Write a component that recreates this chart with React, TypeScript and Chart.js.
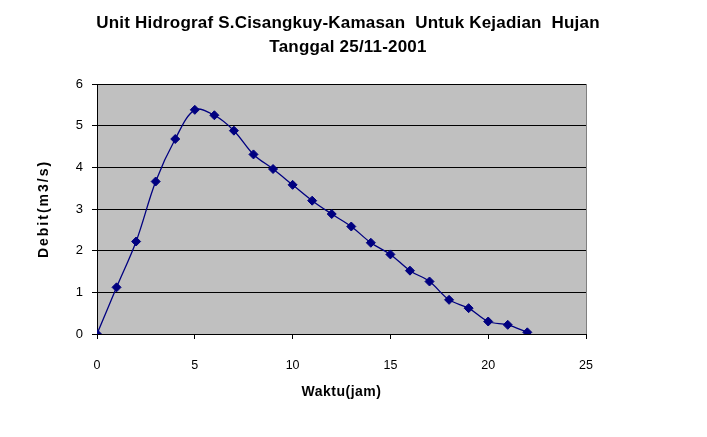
import React, { useEffect, useRef } from "react";
import { Chart, registerables } from "chart.js";

Chart.register(...registerables);

const titleLines = ["Unit Hidrograf S.Cisangkuy-Kamasan  Untuk Kejadian  Hujan", "Tanggal 25/11-2001"];
const xAxisTitle = "Waktu(jam)";
const yAxisTitle = "Debit(m3/s)";
const waktu = [0, 1, 2, 3, 4, 5, 6, 7, 8, 9, 10, 11, 12, 13, 14, 15, 16, 17, 18, 19, 20, 21, 22];
const debit = [0, 1.12, 2.22, 3.66, 4.68, 5.38, 5.25, 4.88, 4.31, 3.96, 3.58, 3.2, 2.88, 2.58, 2.19, 1.91, 1.52, 1.26, 0.82, 0.62, 0.3, 0.22, 0.04];

const sans = "'Liberation Sans', Arial, sans-serif";

const plotBg = {
  id: "plotBg",
  beforeDraw(chart: any) {
    const { ctx, chartArea } = chart;
    ctx.save();
    ctx.fillStyle = "#c0c0c0";
    ctx.fillRect(chartArea.left, chartArea.top, chartArea.right - chartArea.left, chartArea.bottom - chartArea.top);
    ctx.restore();
  },
  beforeDatasetsDraw(chart: any) {
    const { ctx, chartArea } = chart;
    ctx.save();
    ctx.strokeStyle = "#808080";
    ctx.lineWidth = 1;
    ctx.beginPath();
    ctx.moveTo(chartArea.right + 0.5, chartArea.top);
    ctx.lineTo(chartArea.right + 0.5, chartArea.bottom);
    ctx.stroke();
    ctx.restore();
  },
};

const textPlugin = {
  id: "texts",
  afterDraw(chart: any) {
    const { ctx, chartArea } = chart;
    ctx.save();
    ctx.fillStyle = "#000";
    ctx.textAlign = "center";
    ctx.textBaseline = "middle";
    ctx.font = `bold 17px ${sans}`;
    (ctx as any).letterSpacing = "0.2px";
    ctx.fillText(titleLines[0], 348, 23);
    ctx.fillText(titleLines[1], 348, 47);
    ctx.font = `bold 14px ${sans}`;
    (ctx as any).letterSpacing = "0.5px";
    ctx.fillText(xAxisTitle, (chartArea.left + chartArea.right) / 2, 392);
    ctx.translate(44, (chartArea.top + chartArea.bottom) / 2);
    ctx.rotate(-Math.PI / 2);
    (ctx as any).letterSpacing = "2px";
    ctx.fillText(yAxisTitle, 0, 0);
    ctx.restore();
  },
};

export default function App() {
  const ref = useRef<HTMLCanvasElement>(null);
  useEffect(() => {
    document.body.style.margin = "0";
    const chart = new Chart(ref.current!, {
      type: "line",
      data: {
        datasets: [
          {
            data: waktu.map((x, i) => ({ x, y: debit[i] })),
            borderColor: "#000080",
            backgroundColor: "#000080",
            borderWidth: 1.3,
            pointStyle: "rectRot",
            pointRadius: 4.5,
            pointBorderWidth: 1,
            tension: 0.35,
          },
        ],
      },
      options: {
        animation: false,
        responsive: false,
        layout: { padding: { left: 0, right: 121, bottom: 0, top: 84 } },
        plugins: {
          legend: { display: false },
          tooltip: { enabled: false },
          title: { display: false },
        },
        scales: {
          x: {
            type: "linear",
            min: 0,
            max: 25,
            ticks: { stepSize: 5, color: "#000", font: { family: sans, size: 12.5 }, padding: 19 },
            grid: { drawOnChartArea: false, drawTicks: true, tickLength: 5, color: "#000" },
            border: { color: "#000", width: 1 },
            afterFit(scale: any) {
              scale.height = 103;
            },
          },
          y: {
            min: 0,
            max: 6,
            ticks: { stepSize: 1, color: "#000", font: { family: sans, size: 13 }, padding: 9 },
            grid: { color: "#000", lineWidth: 1, tickLength: 5 },
            border: { color: "#000", width: 1 },
            afterFit(scale: any) {
              scale.width = 97;
            },
          },
        },
      },
      plugins: [plotBg, textPlugin],
    });
    return () => chart.destroy();
  }, []);
  return (
    <div style={{ width: 707, height: 437 }}>
      <canvas ref={ref} width={707} height={437} style={{ display: "block" }} />
    </div>
  );
}
